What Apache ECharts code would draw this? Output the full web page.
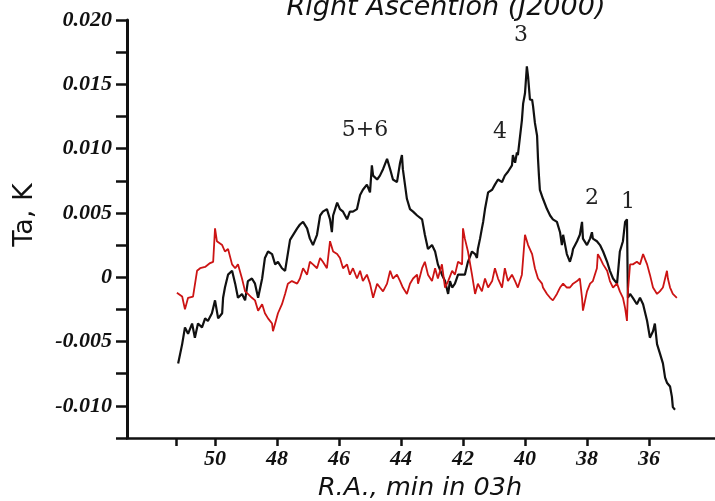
<!DOCTYPE html>
<html>
<head>
<meta charset="utf-8">
<script src="https://cdn.jsdelivr.net/npm/echarts@6/dist/echarts.min.js"></script>
<style>
html,body{margin:0;padding:0;background:#fff;}
#c{width:715px;height:501px;}
</style>
</head>
<body>
<div id="c"></div>
<script>
// R.A. (minutes in 03h) and antenna temperature Ta (K)
const blackRA = [51.19,51.06,50.97,50.87,50.74,50.65,50.55,50.42,50.32,50.23,50.10,50.00,49.90,49.77,49.74,49.68,49.58,49.45,49.35,49.26,49.13,49.03,48.94,48.81,48.71,48.61,48.48,48.39,48.29,48.16,48.06,47.97,47.84,47.74,47.58,47.35,47.26,47.16,47.03,46.94,46.84,46.71,46.61,46.52,46.39,46.29,46.23,46.19,46.06,45.97,45.87,45.74,45.65,45.55,45.42,45.32,45.23,45.10,45.00,44.94,44.90,44.77,44.68,44.58,44.45,44.35,44.26,44.13,44.03,43.97,43.94,43.81,43.71,43.61,43.48,43.32,43.23,43.13,43.00,42.90,42.81,42.68,42.58,42.48,42.42,42.35,42.26,42.16,42.03,41.94,41.84,41.71,41.61,41.55,41.52,41.45,41.39,41.35,41.29,41.19,41.06,40.97,40.87,40.74,40.65,40.55,40.42,40.39,40.32,40.26,40.23,40.10,40.06,40.00,39.94,39.90,39.84,39.77,39.74,39.68,39.61,39.58,39.55,39.52,39.42,39.29,39.19,39.10,38.97,38.87,38.81,38.77,38.65,38.55,38.48,38.45,38.32,38.23,38.16,38.13,38.00,37.90,37.84,37.81,37.68,37.58,37.48,37.35,37.26,37.16,37.03,36.94,36.84,36.77,36.71,36.68,36.61,36.52,36.39,36.29,36.19,36.06,35.97,35.87,35.81,35.74,35.65,35.55,35.48,35.42,35.32,35.26,35.23,35.16];
const blackTa = [-0.0067,-0.0052,-0.0039,-0.0044,-0.0036,-0.0047,-0.0036,-0.0039,-0.0032,-0.0034,-0.0028,-0.0018,-0.0032,-0.0028,-0.0016,-0.0008,0.0002,0.0005,-0.0005,-0.0016,-0.0013,-0.0018,-0.0003,-0.0001,-0.0005,-0.0016,-0.0001,0.0015,0.0020,0.0018,0.0010,0.0012,0.0007,0.0005,0.0029,0.0038,0.0041,0.0043,0.0038,0.0030,0.0025,0.0033,0.0048,0.0051,0.0053,0.0045,0.0035,0.0048,0.0058,0.0053,0.0051,0.0045,0.0051,0.0051,0.0053,0.0064,0.0068,0.0072,0.0066,0.0087,0.0079,0.0076,0.0079,0.0084,0.0092,0.0084,0.0076,0.0074,0.0089,0.0095,0.0084,0.0061,0.0053,0.0051,0.0048,0.0045,0.0033,0.0022,0.0025,0.0020,0.0010,0.0002,-0.0003,-0.0013,-0.0003,-0.0008,-0.0005,0.0002,0.0002,0.0002,0.0012,0.0020,0.0018,0.0015,0.0022,0.0030,0.0038,0.0043,0.0053,0.0066,0.0068,0.0072,0.0076,0.0074,0.0079,0.0082,0.0087,0.0095,0.0089,0.0097,0.0095,0.0122,0.0135,0.0143,0.0164,0.0156,0.0138,0.0138,0.0133,0.0120,0.0110,0.0092,0.0079,0.0068,0.0061,0.0053,0.0048,0.0045,0.0043,0.0035,0.0025,0.0033,0.0018,0.0012,0.0018,0.0022,0.0028,0.0033,0.0043,0.0030,0.0025,0.0030,0.0035,0.0030,0.0028,0.0025,0.0020,0.0012,0.0005,-0.0001,-0.0005,0.0020,0.0028,0.0043,0.0045,-0.0016,-0.0013,-0.0016,-0.0021,-0.0016,-0.0021,-0.0034,-0.0047,-0.0042,-0.0036,-0.0052,-0.0059,-0.0067,-0.0078,-0.0082,-0.0085,-0.0093,-0.0101,-0.0103];

const redRA = [51.23,51.06,50.97,50.87,50.71,50.58,50.48,50.32,50.16,50.06,50.00,49.94,49.77,49.68,49.58,49.45,49.35,49.26,49.13,49.03,48.94,48.81,48.71,48.61,48.48,48.39,48.29,48.16,48.13,48.06,47.97,47.84,47.74,47.65,47.52,47.35,47.26,47.16,47.03,46.94,46.84,46.71,46.61,46.52,46.39,46.29,46.19,46.06,45.97,45.87,45.74,45.65,45.55,45.42,45.32,45.23,45.10,45.00,44.90,44.77,44.68,44.58,44.45,44.35,44.26,44.13,44.03,43.94,43.81,43.71,43.61,43.48,43.45,43.32,43.23,43.13,43.00,42.90,42.81,42.68,42.58,42.48,42.35,42.26,42.16,42.03,42.00,41.94,41.84,41.71,41.61,41.52,41.39,41.29,41.19,41.06,40.97,40.87,40.74,40.65,40.55,40.42,40.32,40.23,40.10,40.00,39.90,39.77,39.68,39.58,39.45,39.42,39.29,39.19,39.10,38.97,38.87,38.77,38.65,38.55,38.45,38.32,38.23,38.16,38.13,38.00,37.90,37.81,37.68,37.65,37.58,37.48,37.35,37.26,37.16,37.03,36.94,36.84,36.77,36.71,36.68,36.61,36.52,36.39,36.29,36.19,36.06,35.97,35.87,35.74,35.65,35.55,35.42,35.39,35.32,35.23,35.10];
const redTa = [-0.0012,-0.0015,-0.0025,-0.0016,-0.0015,0.0005,0.0007,0.0008,0.0011,0.0012,0.0038,0.0028,0.0025,0.0020,0.0022,0.0010,0.0007,0.0010,-0.0001,-0.0011,-0.0013,-0.0016,-0.0018,-0.0026,-0.0021,-0.0028,-0.0032,-0.0036,-0.0042,-0.0036,-0.0028,-0.0021,-0.0013,-0.0005,-0.0003,-0.0005,-0.0001,0.0007,0.0002,0.0012,0.0010,0.0007,0.0015,0.0012,0.0007,0.0028,0.0020,0.0018,0.0015,0.0007,0.0010,0.0002,0.0007,-0.0001,0.0005,-0.0003,0.0002,-0.0005,-0.0016,-0.0005,-0.0008,-0.0011,-0.0005,0.0005,-0.0001,0.0002,-0.0003,-0.0008,-0.0013,-0.0005,-0.0001,0.0002,-0.0005,0.0007,0.0012,0.0002,-0.0003,0.0007,-0.0001,0.0010,-0.0008,-0.0003,0.0005,0.0002,0.0012,0.0010,0.0038,0.0030,0.0020,0.0002,-0.0013,-0.0005,-0.0011,-0.0001,-0.0008,-0.0003,0.0007,-0.0001,-0.0008,0.0007,-0.0003,0.0002,-0.0003,-0.0008,0.0002,0.0033,0.0025,0.0018,0.0007,-0.0001,-0.0005,-0.0008,-0.0013,-0.0016,-0.0018,-0.0013,-0.0008,-0.0005,-0.0008,-0.0008,-0.0005,-0.0003,-0.0001,-0.0016,-0.0026,-0.0011,-0.0005,-0.0003,0.0007,0.0018,0.0015,0.0010,0.0005,-0.0003,-0.0008,-0.0005,-0.0011,-0.0016,-0.0024,-0.0034,-0.0011,0.0010,0.0010,0.0012,0.0010,0.0018,0.0010,0.0002,-0.0008,-0.0013,-0.0011,-0.0008,0.0005,-0.0001,-0.0008,-0.0013,-0.0016];

const xTickValues = [51.26, 50, 48, 46, 44, 42, 40, 38, 36];
const xLabelValues = [50, 48, 46, 44, 42, 40, 38, 36];
const peakLabels = ['5+6', '4', '3', '2', '1'];

const zip = (a, b) => a.map((v, i) => [v, b[i]]);
const serifBI = {fontFamily: '"Liberation Serif", "Times New Roman", serif', fontWeight: 'bold', fontStyle: 'italic', fontSize: 22, color: '#111'};
const sansI = {fontFamily: '"DejaVu Sans", "Liberation Sans", sans-serif', fontStyle: 'italic', fill: '#111'};
const peakFont = {fontFamily: '"DejaVu Serif", "Liberation Serif", serif', fontSize: 22, fill: '#222'};
const peakPos = [[365,130],[500,132],[521,35],[592,198],[628,202]];

const chart = echarts.init(document.getElementById('c'), null, {renderer: 'canvas'});
chart.setOption({
  animation: false,
  backgroundColor: '#fff',
  grid: {left: 127, right: 0, top: 20, bottom: 63, containLabel: false},
  xAxis: {
    type: 'value', inverse: true, min: 33.87, max: 52.84,
    axisLine: {show: true, onZero: false, lineStyle: {color: '#111', width: 2.5}},
    axisTick: {show: true, length: 8, customValues: xTickValues, lineStyle: {color: '#111', width: 2.5}},
    axisLabel: {show: true, customValues: xLabelValues, margin: 10, ...serifBI},
    splitLine: {show: false}
  },
  yAxis: {
    type: 'value', min: -0.0125, max: 0.020, interval: 0.0025,
    axisLine: {show: true, onZero: false, lineStyle: {color: '#111', width: 3}},
    axisTick: {show: true, length: 11, lineStyle: {color: '#111', width: 2.5}},
    axisLabel: {
      show: true, margin: 15, ...serifBI,
      formatter: function (v) {
        const q = v / 0.005, k = Math.round(q);
        if (Math.abs(q - k) > 1e-6) return '';
        return k === 0 ? '0' : v.toFixed(3);
      }
    },
    splitLine: {show: false}
  },
  series: [
    {type: 'line', data: zip(blackRA, blackTa), showSymbol: false, symbol: 'none',
     lineStyle: {color: '#111', width: 2.2}, z: 2},
    {type: 'line', data: zip(redRA, redTa), showSymbol: false, symbol: 'none',
     lineStyle: {color: '#cc1414', width: 1.8}, z: 3}
  ],
  graphic: [
    {type: 'text', x: 446, y: 8, style: {text: 'Right Ascention (J2000)', ...sansI, fontSize: 27, align: 'center', verticalAlign: 'middle'}},
    {type: 'text', x: 420, y: 488, style: {text: 'R.A., min in 03h', ...sansI, fontSize: 25.5, align: 'center', verticalAlign: 'middle'}},
    {type: 'text', x: 25, y: 215, rotation: Math.PI / 2, style: {text: 'Ta, K', fontFamily: '"DejaVu Sans", "Liberation Sans", sans-serif', fontSize: 27, fill: '#111', align: 'center', verticalAlign: 'middle'}},
  ].concat(peakLabels.map((t, i) => ({type: 'text', x: peakPos[i][0], y: peakPos[i][1], style: {text: t, ...peakFont, align: 'center', verticalAlign: 'middle'}})))
});
</script>
</body>
</html>
